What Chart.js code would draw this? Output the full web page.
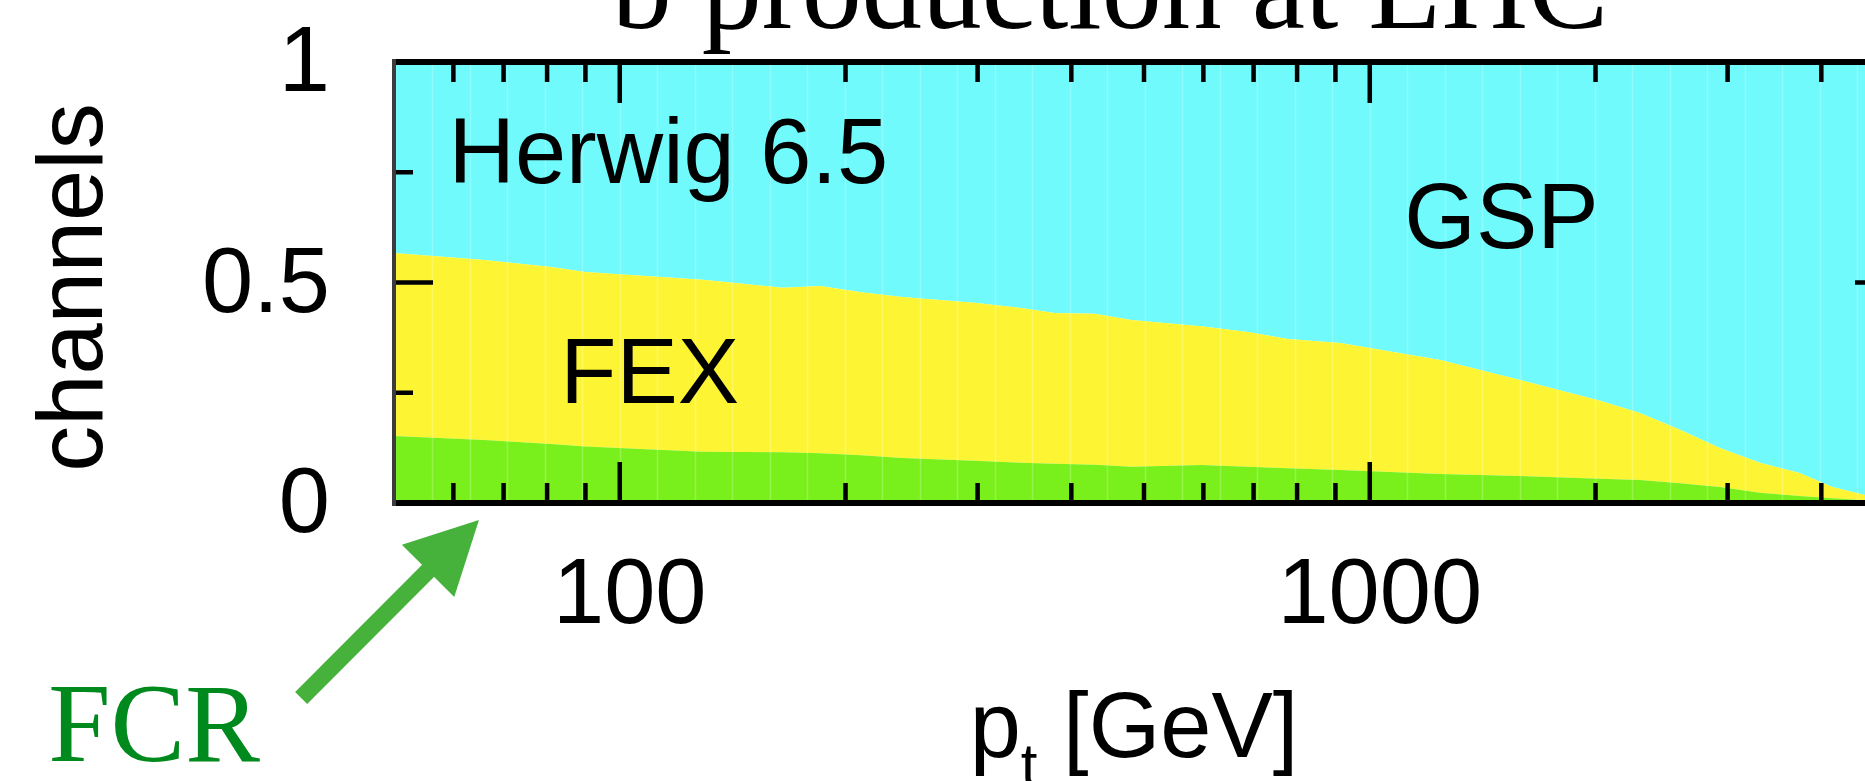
<!DOCTYPE html>
<html>
<head>
<meta charset="utf-8">
<script src="https://cdn.jsdelivr.net/npm/chart.js@4.4.1/dist/chart.umd.min.js"></script>
<style>
  html, body { margin: 0; padding: 0; background: #fff; overflow: hidden; }
  #wrap { width: 1940px; height: 781px; }
</style>
</head>
<body>
<div id="wrap"><canvas id="c" width="1940" height="781"></canvas></div>
<script>
// Transverse momentum of the b quark (GeV)
const ptValues = [50, 66, 81, 90, 129, 165, 185, 210, 238, 297, 343, 380, 430, 481, 596,
                  688, 778, 914, 1242, 1587, 2029, 2292, 2592, 2930, 3313, 3741, 4140, 4571, 5000];
// Fraction of b production per channel (stacked: FCR + FEX + GSP = 1)
const fcrFraction = [0.152, 0.143, 0.134, 0.128, 0.116, 0.115, 0.113, 0.108, 0.102, 0.096, 0.091, 0.089, 0.087, 0.082, 0.086,
                     0.082, 0.079, 0.075, 0.066, 0.061, 0.055, 0.052, 0.045, 0.036, 0.023, 0.016, 0.011, 0.006, 0.003];
const fexFraction = [0.415, 0.408, 0.401, 0.396, 0.390, 0.373, 0.379, 0.370, 0.365, 0.358, 0.351, 0.342, 0.342, 0.333, 0.315,
                     0.306, 0.293, 0.288, 0.258, 0.218, 0.177, 0.152, 0.121, 0.089, 0.068, 0.052, 0.025, 0.012, 0.005];
const gspFraction = [0.433, 0.449, 0.465, 0.476, 0.494, 0.512, 0.508, 0.522, 0.533, 0.546, 0.558, 0.569, 0.571, 0.585, 0.599,
                     0.612, 0.628, 0.637, 0.676, 0.721, 0.768, 0.796, 0.834, 0.875, 0.909, 0.932, 0.964, 0.982, 0.992];

// Axis ticks
const xMajorTicks = [100, 1000];
const xMinorTicks = [60, 70, 80, 90, 200, 300, 400, 500, 600, 700, 800, 900, 2000, 3000, 4000];
const yMajorTicks = [0, 0.5, 1];
const yMinorTicks = [0.25, 0.75];

// Text
const chartTitle = 'b production at LHC';
const yTitle = 'channels';
const generatorLabel = 'Herwig 6.5';
const channelNames = ['FCR', 'FEX', 'GSP'];

const SANS = '"Liberation Sans", Arial, Helvetica, sans-serif';
const SERIF = '"Liberation Serif", "Times New Roman", serif';
const colors = {
  fcr: 'rgb(121,240,27)',
  fex: 'rgb(253,245,52)',
  gsp: 'rgb(112,250,251)',
  arrow: 'rgb(70,178,60)',
  fcrText: 'rgb(0,138,30)'
};

// Histogram binning: 40 log-spaced bins between 50 and 5000 GeV
const binEdges = [];
for (let k = 0; k <= 40; k++) binEdges.push(Math.pow(10, 1.7 + 0.05 * k));

const toPoints = arr => ptValues.map((p, i) => ({ x: p, y: arr[i] }));

// Placement of in-plot labels and the FCR pointer, in data coordinates
const labelPlacement = {
  generator: { pt: 59.1, frac: 0.726 },
  fex: { pt: 83.3, frac: 0.227 },
  gsp: { pt: 1112, frac: 0.578 },
  fcrText: { pt: 17.3, frac: -0.585 },
  arrowTail: { pt: 37.6, frac: -0.442 },
  arrowTip: { pt: 64.9, frac: -0.0385 }
};

const decorations = {
  id: 'decorations',
  afterDatasetsDraw(chart) {
    const { ctx, chartArea: a, scales: { x, y } } = chart;

    // faint seams between histogram bins
    ctx.save();
    ctx.beginPath();
    ctx.rect(a.left, a.top, a.right - a.left, a.bottom - a.top);
    ctx.clip();
    ctx.strokeStyle = 'rgba(255,255,255,0.22)';
    ctx.lineWidth = 1.5;
    for (const e of binEdges) {
      const px = Math.round(x.getPixelForValue(e)) + 0.5;
      ctx.beginPath(); ctx.moveTo(px, a.top); ctx.lineTo(px, a.bottom); ctx.stroke();
    }
    ctx.restore();

    // channel labels inside the plot
    ctx.save();
    ctx.fillStyle = '#000';
    ctx.font = '92px ' + SANS;
    ctx.textAlign = 'left';
    ctx.textBaseline = 'alphabetic';
    const put = (txt, p) => ctx.fillText(txt, x.getPixelForValue(p.pt), y.getPixelForValue(p.frac));
    put(generatorLabel, labelPlacement.generator);
    put(channelNames[1], labelPlacement.fex);
    put(channelNames[2], labelPlacement.gsp);
    ctx.restore();

    // inward tick marks on all four sides
    ctx.save();
    ctx.strokeStyle = '#000';
    ctx.lineWidth = 4.5;
    const xTick = (v, len) => {
      const px = x.getPixelForValue(v);
      ctx.beginPath();
      ctx.moveTo(px, a.bottom); ctx.lineTo(px, a.bottom - len);
      ctx.moveTo(px, a.top); ctx.lineTo(px, a.top + len);
      ctx.stroke();
    };
    const yTick = (v, len) => {
      const py = y.getPixelForValue(v);
      ctx.beginPath();
      ctx.moveTo(a.left, py); ctx.lineTo(a.left + len, py);
      ctx.moveTo(a.right, py); ctx.lineTo(a.right - len, py);
      ctx.stroke();
    };
    xMajorTicks.forEach(v => xTick(v, 41));
    xMinorTicks.forEach(v => xTick(v, 20));
    yMajorTicks.forEach(v => yTick(v, 39));
    yMinorTicks.forEach(v => yTick(v, 19));

    // frame
    ctx.lineWidth = 6;
    ctx.beginPath();
    ctx.moveTo(a.left, a.top); ctx.lineTo(a.right, a.top);
    ctx.moveTo(a.left, a.bottom); ctx.lineTo(a.right, a.bottom);
    ctx.moveTo(a.right, a.top); ctx.lineTo(a.right, a.bottom);
    ctx.stroke();
    ctx.strokeStyle = '#3c3c3c';
    ctx.lineWidth = 4;
    ctx.beginPath();
    ctx.moveTo(a.left, a.top - 3); ctx.lineTo(a.left, a.bottom + 3);
    ctx.stroke();
    ctx.restore();
  },
  afterDraw(chart) {
    const { ctx, chartArea: a, scales: { x, y } } = chart;
    ctx.save();

    // title (runs off the top edge of the canvas)
    ctx.fillStyle = '#000';
    ctx.font = '120px ' + SERIF;
    ctx.textAlign = 'center';
    ctx.textBaseline = 'alphabetic';
    ctx.fillText(chartTitle, 1110, 28);

    // y-axis title
    ctx.font = '92px ' + SANS;
    ctx.save();
    ctx.translate(102, (a.top + a.bottom) / 2 + 5);
    ctx.rotate(-Math.PI / 2);
    ctx.textAlign = 'center';
    ctx.fillText(yTitle, 0, 0);
    ctx.restore();

    // x-axis title: p_t [GeV]
    ctx.textAlign = 'left';
    const big = '92px ' + SANS, small = '60px ' + SANS;
    ctx.font = big; const wp = ctx.measureText('p').width; const wRest = ctx.measureText(' [GeV]').width;
    ctx.font = small; const wt = ctx.measureText('t').width;
    const x0 = (a.left + a.right) / 2 - (wp + wt + wRest) / 2 - 10;
    const base = 757;
    ctx.font = big; ctx.fillText('p', x0, base);
    ctx.font = small; ctx.fillText('t', x0 + wp, base + 28);
    ctx.font = big; ctx.fillText(' [GeV]', x0 + wp + wt, base);

    // FCR pointer arrow
    const tx = x.getPixelForValue(labelPlacement.arrowTail.pt), ty = y.getPixelForValue(labelPlacement.arrowTail.frac);
    const hx = x.getPixelForValue(labelPlacement.arrowTip.pt), hy = y.getPixelForValue(labelPlacement.arrowTip.frac);
    const ang = Math.atan2(hy - ty, hx - tx);
    const headLen = 72, headHalf = 37, shaft = 17;
    const bx = hx - headLen * Math.cos(ang), by = hy - headLen * Math.sin(ang);
    ctx.fillStyle = colors.arrow;
    ctx.strokeStyle = colors.arrow;
    ctx.lineWidth = shaft;
    ctx.lineCap = 'butt';
    ctx.beginPath(); ctx.moveTo(tx, ty); ctx.lineTo(bx + 4 * Math.cos(ang), by + 4 * Math.sin(ang)); ctx.stroke();
    ctx.beginPath();
    ctx.moveTo(hx, hy);
    ctx.lineTo(bx + headHalf * Math.sin(ang), by - headHalf * Math.cos(ang));
    ctx.lineTo(bx - headHalf * Math.sin(ang), by + headHalf * Math.cos(ang));
    ctx.closePath();
    ctx.fill();

    // FCR label
    ctx.fillStyle = colors.fcrText;
    ctx.font = '112px ' + SERIF;
    ctx.textAlign = 'left';
    ctx.fillText(channelNames[0], x.getPixelForValue(labelPlacement.fcrText.pt), y.getPixelForValue(labelPlacement.fcrText.frac));

    ctx.restore();
  }
};

const W = 1940;
new Chart(document.getElementById('c'), {
  type: 'line',
  data: {
    datasets: [
      { label: channelNames[0], data: toPoints(fcrFraction), backgroundColor: colors.fcr, fill: 'origin' },
      { label: channelNames[1], data: toPoints(fexFraction), backgroundColor: colors.fex, fill: '-1' },
      { label: channelNames[2], data: toPoints(gspFraction), backgroundColor: colors.gsp, fill: '-1' }
    ]
  },
  options: {
    responsive: false,
    animation: false,
    devicePixelRatio: 1,
    layout: { padding: { left: 0, top: 62, right: W - 1894, bottom: 0 } },
    elements: {
      line: { borderWidth: 0, tension: 0, borderColor: 'rgba(0,0,0,0)' },
      point: { radius: 0, hoverRadius: 0 }
    },
    plugins: { legend: { display: false }, tooltip: { enabled: false }, title: { display: false } },
    scales: {
      x: {
        type: 'logarithmic',
        min: 50, max: 5000,
        grid: { display: false },
        border: { display: false },
        afterFit: s => { s.height = 278; s.paddingLeft = 0; s.paddingRight = 0; },
        afterBuildTicks: s => { s.ticks = xMajorTicks.map(v => ({ value: v })); },
        ticks: {
          autoSkip: false, maxRotation: 0, padding: 31, labelOffset: 10,
          color: '#000', font: { family: SANS, size: 92 },
          callback: v => String(v)
        }
      },
      y: {
        type: 'linear',
        min: 0, max: 1,
        stacked: true,
        grid: { display: false },
        border: { display: false },
        afterFit: s => { s.width = 394; s.paddingTop = 0; s.paddingBottom = 0; },
        afterBuildTicks: s => { s.ticks = yMajorTicks.map(v => ({ value: v })); },
        ticks: {
          padding: 56, labelOffset: 4,
          color: '#000', font: { family: SANS, size: 92 },
          callback: v => String(v)
        }
      }
    }
  },
  plugins: [decorations]
});
</script>
</body>
</html>
